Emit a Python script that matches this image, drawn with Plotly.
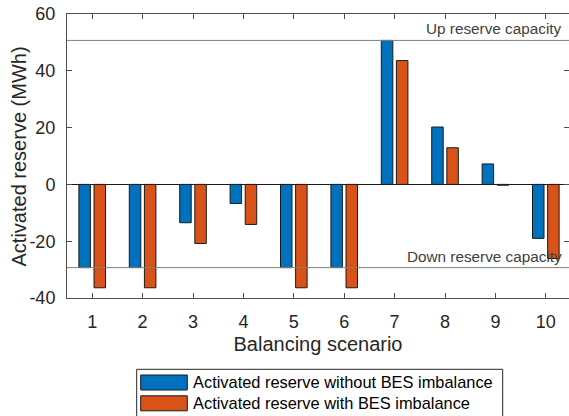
import plotly.graph_objects as go

# ---- data ----
scenarios = [1, 2, 3, 4, 5, 6, 7, 8, 9, 10]
without_bes = [-29.3, -29.3, -13.5, -6.7, -29.3, -29.3, 50.7, 20.2, 7.2, -19.0]
with_bes = [-36.4, -36.4, -20.8, -14.1, -36.4, -36.4, 43.6, 12.9, -0.3, -26.1]
up_capacity = 50.7
down_capacity = -29.3
series_names = ["Activated reserve without BES imbalance",
                "Activated reserve with BES imbalance"]
y_ticks = [-40, -20, 0, 20, 40, 60]
y_tick_labels = ["-40", "-20", "0", "20", "40", "60"]

# ---- style ----
W_FIG, H_FIG = 569, 416
L, T = 67, 14
B = 118
PW = W_FIG - L
PH = H_FIG - T - B
FONT = "Liberation Sans, Arial, Helvetica, sans-serif"
BLUE = "#0072BD"
ORANGE = "#D95319"
AX = "#262626"


def px_x(x):
    return (x - L) / PW


def px_y(y):
    return (T + PH - y) / PH


fig = go.Figure()
for name, vals, col in [(series_names[0], without_bes, BLUE),
                        (series_names[1], with_bes, ORANGE)]:
    fig.add_trace(go.Bar(
        x=scenarios, y=vals, name=name, showlegend=False,
        marker=dict(color=col, line=dict(color="#1a1a1a", width=1)),
    ))

# capacity lines
for val in (up_capacity, down_capacity):
    fig.add_shape(type="line", xref="paper", yref="y", x0=0, x1=1,
                  y0=val, y1=val, line=dict(color="#808080", width=1),
                  layer="above")

fig.add_annotation(text="Up reserve capacity", xref="paper", yref="y",
                   x=px_x(564), y=up_capacity, xanchor="right",
                   yanchor="bottom", yshift=1, showarrow=False,
                   font=dict(family=FONT, size=15.3, color="#404040"))
fig.add_annotation(text="Down reserve capacity", xref="paper", yref="y",
                   x=px_x(564), y=down_capacity, xanchor="right",
                   yanchor="bottom", yshift=1, showarrow=False,
                   font=dict(family=FONT, size=15.3, color="#404040"))

# y axis title placed as in the original
fig.add_annotation(text="Activated reserve (MWh)", xref="paper", yref="paper",
                   x=px_x(18.5), y=px_y(157), xanchor="center",
                   yanchor="middle", textangle=-90, showarrow=False,
                   font=dict(family=FONT, size=20, color=AX))

# manual legend (wide swatches as in the original)
fig.add_shape(type="rect", xref="paper", yref="paper",
              x0=px_x(136.7), x1=px_x(502.7), y0=px_y(430), y1=px_y(369.3),
              line=dict(color="#262626", width=1), fillcolor="white",
              layer="above")
rows = [(382.5, BLUE, series_names[0]), (403.3, ORANGE, series_names[1])]
for cy, col, name in rows:
    fig.add_shape(type="rect", xref="paper", yref="paper",
                  x0=px_x(140.7), x1=px_x(187.3),
                  y0=px_y(cy + 7.5), y1=px_y(cy - 7.5),
                  line=dict(color="#1a1a1a", width=1), fillcolor=col,
                  layer="above")
    fig.add_annotation(text=name, xref="paper", yref="paper",
                       x=px_x(190.5), y=px_y(cy), xanchor="left",
                       yanchor="middle", showarrow=False,
                       font=dict(family=FONT, size=16.4, color="black"))

fig.update_layout(
    width=W_FIG, height=H_FIG,
    margin=dict(l=L, r=0, t=T, b=B, autoexpand=False),
    paper_bgcolor="white", plot_bgcolor="white",
    barmode="group", bargap=0.4, bargroupgap=0.24,
    font=dict(family=FONT, color=AX),
    showlegend=False,
)
fig.update_xaxes(
    range=[0.5, 10.46], tickvals=scenarios, ticktext=[str(s) for s in scenarios],
    ticks="inside", ticklen=5, tickcolor="#4d4d4d", showline=True,
    linecolor="#4d4d4d", linewidth=1, mirror="ticks", showgrid=False,
    zeroline=False, tickfont=dict(size=18, color=AX), ticklabelstandoff=7,
    title=dict(text="Balancing scenario", font=dict(size=20, color=AX),
               standoff=6),
)
fig.update_yaxes(
    range=[-40, 60], tickvals=y_ticks, ticktext=y_tick_labels,
    ticks="inside", ticklen=5,
    tickcolor="#4d4d4d", showline=True, linecolor="#4d4d4d", linewidth=1,
    mirror="ticks", showgrid=False, zeroline=True, zerolinecolor="#1a1a1a",
    zerolinewidth=1, tickfont=dict(size=18, color=AX), ticklabelstandoff=7,
)

fig.write_html(
    "out.html",
    config={"displayModeBar": False},
    post_script="document.body.style.margin='0';"
                "document.body.style.overflow='hidden';",
)
